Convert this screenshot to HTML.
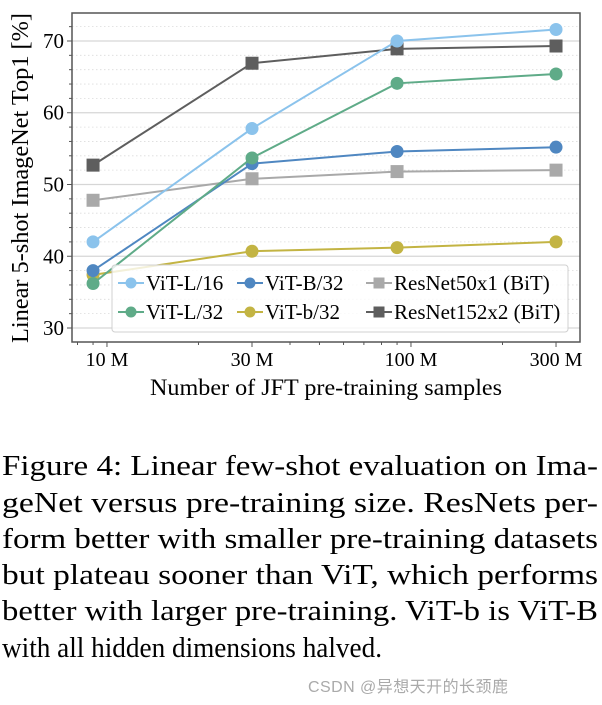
<!DOCTYPE html>
<html><head><meta charset="utf-8"><style>
html,body{margin:0;padding:0;background:#fff;}
svg{display:block;}
.serif{font-family:"Liberation Serif","DejaVu Serif",serif;}
</style></head><body>
<svg id="fig" width="602" height="705" viewBox="0 0 602 705" xmlns="http://www.w3.org/2000/svg">
<g id="grid"></g>
<g id="series"></g>
<g id="axes"></g>
<g id="legend"></g>
<text class="serif" x="0" y="0" font-size="24" text-anchor="middle" textLength="330" lengthAdjust="spacingAndGlyphs" transform="translate(28,178) rotate(-90)">Linear 5-shot ImageNet Top1 [%]</text>
<text class="serif" x="326" y="395" font-size="23" text-anchor="middle" textLength="352" lengthAdjust="spacingAndGlyphs">Number of JFT pre-training samples</text>
<g class="serif" font-size="28" fill="#000">
<text x="2" y="475" textLength="596" lengthAdjust="spacingAndGlyphs">Figure 4:  Linear few-shot evaluation on Ima-</text>
<text x="2" y="512" textLength="596" lengthAdjust="spacingAndGlyphs">geNet versus pre-training size.  ResNets per-</text>
<text x="2" y="548" textLength="596" lengthAdjust="spacingAndGlyphs">form better with smaller pre-training datasets</text>
<text x="2" y="584" textLength="596" lengthAdjust="spacingAndGlyphs">but plateau sooner than ViT, which performs</text>
<text x="2" y="620" textLength="596" lengthAdjust="spacingAndGlyphs">better with larger pre-training. ViT-b is ViT-B</text>
<text x="2" y="657" textLength="380" lengthAdjust="spacingAndGlyphs">with all hidden dimensions halved.</text>
</g>
<text x="308" y="692" font-size="16" fill="#aaa" textLength="200" font-family="'Liberation Sans','Noto Sans CJK SC',sans-serif">CSDN @异想天开的长颈鹿</text>
</svg>
<script>
const xSamples = [9, 30, 90, 300];
const xTickVals = [10, 30, 100, 300];
const xTickLabels = ["10 M", "30 M", "100 M", "300 M"];
const yTickVals = [30, 40, 50, 60, 70];
const seriesNames = ["ViT-L/16", "ViT-L/32", "ViT-B/32", "ViT-b/32", "ResNet50x1 (BiT)", "ResNet152x2 (BiT)"];
const vitL16 = [42.0, 57.8, 70.0, 71.6];
const vitL32 = [36.2, 53.7, 64.1, 65.4];
const vitB32 = [38.0, 52.9, 54.6, 55.2];
const vitb32 = [37.4, 40.7, 41.2, 42.0];
const res50 = [47.8, 50.8, 51.8, 52.0];
const res152 = [52.7, 66.9, 68.9, 69.3];

const NS = "http://www.w3.org/2000/svg";
const L = 72, R = 580, T = 13, B = 342;
const yMin = 28.05, yMax = 73.9;
const xMinLog = 0.885, xMaxLog = 2.556;
function xs(v){ return L + (Math.log10(v) - xMinLog) / (xMaxLog - xMinLog) * (R - L); }
function ys(v){ return B - (v - yMin) / (yMax - yMin) * (B - T); }
function mk(tag, attrs, parent){ const e = document.createElementNS(NS, tag); for (const k in attrs) e.setAttribute(k, attrs[k]); parent.appendChild(e); return e; }

const grid = document.getElementById('grid');
const axes = document.getElementById('axes');
const ser = document.getElementById('series');
const leg = document.getElementById('legend');

for (let v = 30; v <= 72; v += 2) {
  const major = v % 10 === 0;
  const g = mk('line', {x1: L, x2: R, y1: ys(v), y2: ys(v), stroke: major ? '#d6d6d6' : '#dcdcdc', 'stroke-width': major ? 1.2 : 0.8, 'stroke-dasharray': major ? '' : '1.5,2.5'}, grid);
  
  
  const t = mk('line', {x1: L - (major ? 5 : 3), x2: L, y1: ys(v), y2: ys(v), stroke: '#555', 'stroke-width': 1}, axes);
  
  
}
yTickVals.forEach(v => {
  const t = mk('text', {x: L - 8, y: ys(v) + 7, 'text-anchor': 'end', 'font-size': 21, class: 'serif'}, axes);
  t.textContent = v;
  
  
});
const minors = [8, 9, 20, 40, 50, 60, 70, 80, 90, 200, 400];
minors.forEach(v => {
  const x = xs(v); if (x < L || x > R) return;
  const t = mk('line', {x1: x, x2: x, y1: B, y2: B + 3, stroke: '#555', 'stroke-width': 1}, axes);
  
  
});
xTickVals.forEach((v, i) => {
  const t = mk('line', {x1: xs(v), x2: xs(v), y1: B, y2: B + 5, stroke: '#555', 'stroke-width': 1}, axes);
  
  
  const l = mk('text', {x: xs(v), y: B + 24, 'text-anchor': 'middle', 'font-size': 20, class: 'serif'}, axes);
  l.textContent = xTickLabels[i];
  
  
});
const frame = mk('rect', {x: L, y: T, width: R - L, height: B - T, fill: 'none', stroke: '#555', 'stroke-width': 1.5}, axes);



const seriesData = [vitL16, vitL32, vitB32, vitb32, res50, res152];
const colors = ['#8bc3ec', '#5fab88', '#4f87c1', '#c3b443', '#a9a9a9', '#5e5e5e'];
const markers = ['o', 'o', 'o', 'o', 's', 's'];
const drawOrder = [5, 4, 3, 2, 1, 0];
function marker(kind, x, y, color, parent, size){
  if (kind === 'o') return mk('circle', {cx: x, cy: y, r: size, fill: color}, parent);
  return mk('rect', {x: x - size, y: y - size, width: 2 * size, height: 2 * size, fill: color}, parent);
}
drawOrder.forEach(si => {
  const vals = seriesData[si];
  const g = mk('g', {}, ser);
  
  
  const pts = vals.map((v, i) => xs(xSamples[i]).toFixed(1) + ',' + ys(v).toFixed(1)).join(' ');
  const pl = mk('polyline', {points: pts, fill: 'none', stroke: colors[si], 'stroke-width': 2}, g);
  
  
  vals.forEach((v, i) => {
    const m = marker(markers[si], xs(xSamples[i]), ys(v), colors[si], g, 6.5);
    
    
  });
});

const box = mk('rect', {x: 112, y: 265, width: 456, height: 67, rx: 3, fill: 'rgba(255,255,255,0.8)', stroke: '#d0d0d0', 'stroke-width': 1}, leg);


const legPos = [[118, 283], [118, 312], [237, 283], [237, 312], [366, 283], [366, 312]];
seriesNames.forEach((n, i) => {
  const [x, y] = legPos[i];
  const g = mk('g', {}, leg);
  
  
  mk('line', {x1: x, x2: x + 26, y1: y, y2: y, stroke: colors[i], 'stroke-width': 2}, g);
  marker(markers[i], x + 13, y, colors[i], g, 5.5);
  const t = mk('text', {x: x + 28, y: y + 7, 'font-size': 21, class: 'serif'}, g);
  t.textContent = n;
});
</script>
</body></html>
